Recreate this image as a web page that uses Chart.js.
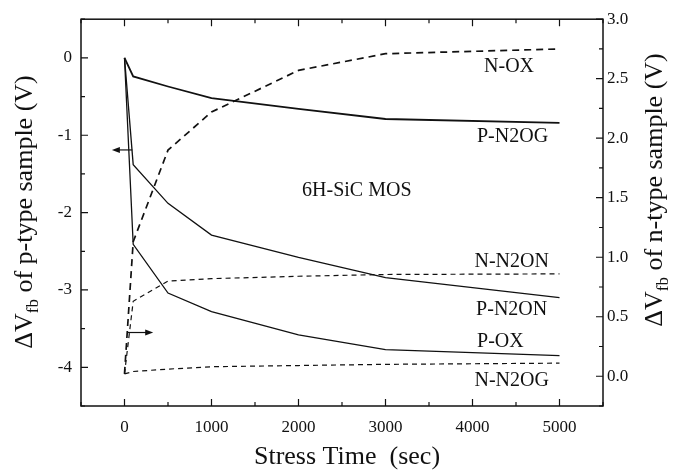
<!DOCTYPE html>
<html>
<head>
<meta charset="utf-8">
<script src="https://cdn.jsdelivr.net/npm/chart.js@4.4.1/dist/chart.umd.min.js"></script>
<style>
  body { margin: 0; background: #fff; }
</style>
</head>
<body>
<canvas id="vfbChart" width="679" height="475"></canvas>
<script>
// Stress time (sec)
const stressTime = [0, 100, 500, 1000, 2000, 3000, 5000];

// p-type samples, left axis (V)
const pN2OG = [0, -0.24, -0.37, -0.52, -0.66, -0.79, -0.84];
const pN2ON = [0, -1.38, -1.88, -2.29, -2.58, -2.84, -3.10];
const pOX   = [0, -2.41, -3.04, -3.28, -3.58, -3.77, -3.85];

// n-type samples, right axis (V)
const nOX   = [0.02, 1.13, 1.90, 2.22, 2.57, 2.71, 2.75];
const nN2ON = [0.02, 0.63, 0.80, 0.82, 0.84, 0.855, 0.86];
const nN2OG = [0.02, 0.04, 0.06, 0.08, 0.09, 0.10, 0.11];

// tick labels
const xTicks = [0, 1000, 2000, 3000, 4000, 5000];
const leftTicks = [0, -1, -2, -3, -4];
const rightTicks = [0, 0.5, 1.0, 1.5, 2.0, 2.5, 3.0];

const FONT = '"Liberation Serif", "Times New Roman", serif';
const INK = '#111';

// curve labels, placed in (time, left-axis) units
const curveLabels = [
    { text: 'N-OX',       x: 4420, y: -0.12 },
    { text: 'P-N2OG',     x: 4460, y: -1.02 },
    { text: '6H-SiC MOS', x: 2670, y: -1.72 },
    { text: 'N-N2ON',     x: 4450, y: -2.64 },
    { text: 'P-N2ON',     x: 4450, y: -3.26 },
    { text: 'P-OX',       x: 4320, y: -3.67 },
    { text: 'N-N2OG',     x: 4450, y: -4.18 }
];

const toPoints = ys => stressTime.map((t, i) => ({ x: t, y: ys[i] }));

// draws "ΔV" + subscript "fb" + rest, rotated to read bottom-to-top
function drawVfbTitle(ctx, cx, cy, rest) {
    const big = '26px ' + FONT, small = '17px ' + FONT;
    ctx.save();
    ctx.translate(cx, cy);
    ctx.rotate(-Math.PI / 2);
    ctx.fillStyle = INK;
    ctx.textBaseline = 'alphabetic';
    ctx.textAlign = 'left';
    ctx.font = big;
    const w1 = ctx.measureText('ΔV').width;
    const w3 = ctx.measureText(rest).width;
    ctx.font = small;
    const w2 = ctx.measureText('fb').width;
    let x = -(w1 + w2 + w3) / 2;
    ctx.font = big;
    ctx.fillText('ΔV', x, 8);
    x += w1;
    ctx.font = small;
    ctx.fillText('fb', x, 14);
    x += w2;
    ctx.font = big;
    ctx.fillText(rest, x, 8);
    ctx.restore();
}

function arrow(ctx, x1, x2, y) {
    const dir = Math.sign(x2 - x1);
    ctx.beginPath();
    ctx.moveTo(x1, y);
    ctx.lineTo(x2 - dir * 6, y);
    ctx.stroke();
    ctx.beginPath();
    ctx.moveTo(x2, y);
    ctx.lineTo(x2 - dir * 8, y - 3);
    ctx.lineTo(x2 - dir * 8, y + 3);
    ctx.closePath();
    ctx.fill();
}

const framePlugin = {
    id: 'frame',
    afterDraw(chart) {
        const { ctx, chartArea: a, scales } = chart;
        const x = scales.x, yL = scales.yL, yR = scales.yR;
        ctx.save();
        ctx.strokeStyle = INK;
        ctx.fillStyle = INK;

        // box
        ctx.lineWidth = 1.5;
        ctx.strokeRect(a.left, a.top, a.right - a.left, a.bottom - a.top);

        // inward ticks
        ctx.lineWidth = 1.2;
        ctx.beginPath();
        for (let v = -500; v <= 5500; v += 500) {
            const px = x.getPixelForValue(v);
            const len = v % 1000 === 0 ? 7 : 4;
            ctx.moveTo(px, a.bottom); ctx.lineTo(px, a.bottom - len);
            ctx.moveTo(px, a.top); ctx.lineTo(px, a.top + len);
        }
        for (let v = -4.5; v <= 0.5; v += 0.5) {
            const py = yL.getPixelForValue(v);
            const len = Number.isInteger(v) ? 7 : 4;
            ctx.moveTo(a.left, py); ctx.lineTo(a.left + len, py);
        }
        for (let v = -0.25; v <= 3.0; v += 0.25) {
            const py = yR.getPixelForValue(v);
            const len = Math.abs(v * 2 - Math.round(v * 2)) < 1e-6 ? 7 : 4;
            ctx.moveTo(a.right, py); ctx.lineTo(a.right - len, py);
        }
        ctx.stroke();

        // axis arrows
        ctx.lineWidth = 1.2;
        arrow(ctx, x.getPixelForValue(90), x.getPixelForValue(-145), yL.getPixelForValue(-1.19));
        arrow(ctx, x.getPixelForValue(30), x.getPixelForValue(330), yL.getPixelForValue(-3.55));

        // curve labels
        ctx.font = '20px ' + FONT;
        ctx.textAlign = 'center';
        ctx.textBaseline = 'middle';
        curveLabels.forEach(l => {
            ctx.fillText(l.text, x.getPixelForValue(l.x), yL.getPixelForValue(l.y));
        });

        // axis titles
        ctx.font = '26px ' + FONT;
        ctx.textBaseline = 'alphabetic';
        ctx.fillText('Stress Time  (sec)', (a.left + a.right) / 2 + 5, 464);
        drawVfbTitle(ctx, 24, 212, ' of p-type sample (V)');
        drawVfbTitle(ctx, 654, 190, ' of n-type sample (V)');
        ctx.restore();
    }
};

const solid = (label, data, width) => ({
    label, data: toPoints(data), yAxisID: 'yL',
    borderColor: INK, borderWidth: width, pointRadius: 0, fill: false, tension: 0
});
const dashed = (label, data, width, dash) => ({
    label, data: toPoints(data), yAxisID: 'yR',
    borderColor: INK, borderWidth: width, borderDash: dash, pointRadius: 0, fill: false, tension: 0
});

const tickFont = { family: FONT, size: 17 };

new Chart(document.getElementById('vfbChart').getContext('2d'), {
    type: 'line',
    data: {
        datasets: [
            solid('P-N2OG', pN2OG, 1.8),
            solid('P-N2ON', pN2ON, 1.3),
            solid('P-OX', pOX, 1.3),
            dashed('N-OX', nOX, 1.7, [7, 5]),
            dashed('N-N2ON', nN2ON, 1.2, [5, 4]),
            dashed('N-N2OG', nN2OG, 1.2, [5, 4])
        ]
    },
    options: {
        responsive: false,
        animation: false,
        layout: { padding: { top: 15, left: 0, right: 0, bottom: 0 } },
        scales: {
            x: {
                type: 'linear',
                min: -500, max: 5500,
                afterBuildTicks: s => { s.ticks = xTicks.map(v => ({ value: v })); },
                afterFit: s => { s.height = 69; },
                grid: { display: false, drawTicks: false },
                border: { display: false },
                ticks: { color: INK, font: tickFont, padding: 11, maxRotation: 0, callback: v => String(v) }
            },
            yL: {
                type: 'linear', position: 'left',
                min: -4.5, max: 0.5,
                afterBuildTicks: s => { s.ticks = leftTicks.map(v => ({ value: v })); },
                afterFit: s => { s.width = 81; },
                grid: { display: false, drawTicks: false },
                border: { display: false },
                ticks: { color: INK, font: tickFont, padding: 9, callback: v => String(v) }
            },
            yR: {
                type: 'linear', position: 'right',
                min: -0.25, max: 3.0,
                afterBuildTicks: s => { s.ticks = rightTicks.map(v => ({ value: v })); },
                afterFit: s => { s.width = 76; },
                grid: { display: false, drawTicks: false },
                border: { display: false },
                ticks: { color: INK, font: tickFont, padding: 4, callback: v => Number(v).toFixed(1) }
            }
        },
        plugins: {
            legend: { display: false },
            tooltip: { enabled: false }
        }
    },
    plugins: [framePlugin]
});
</script>
</body>
</html>
